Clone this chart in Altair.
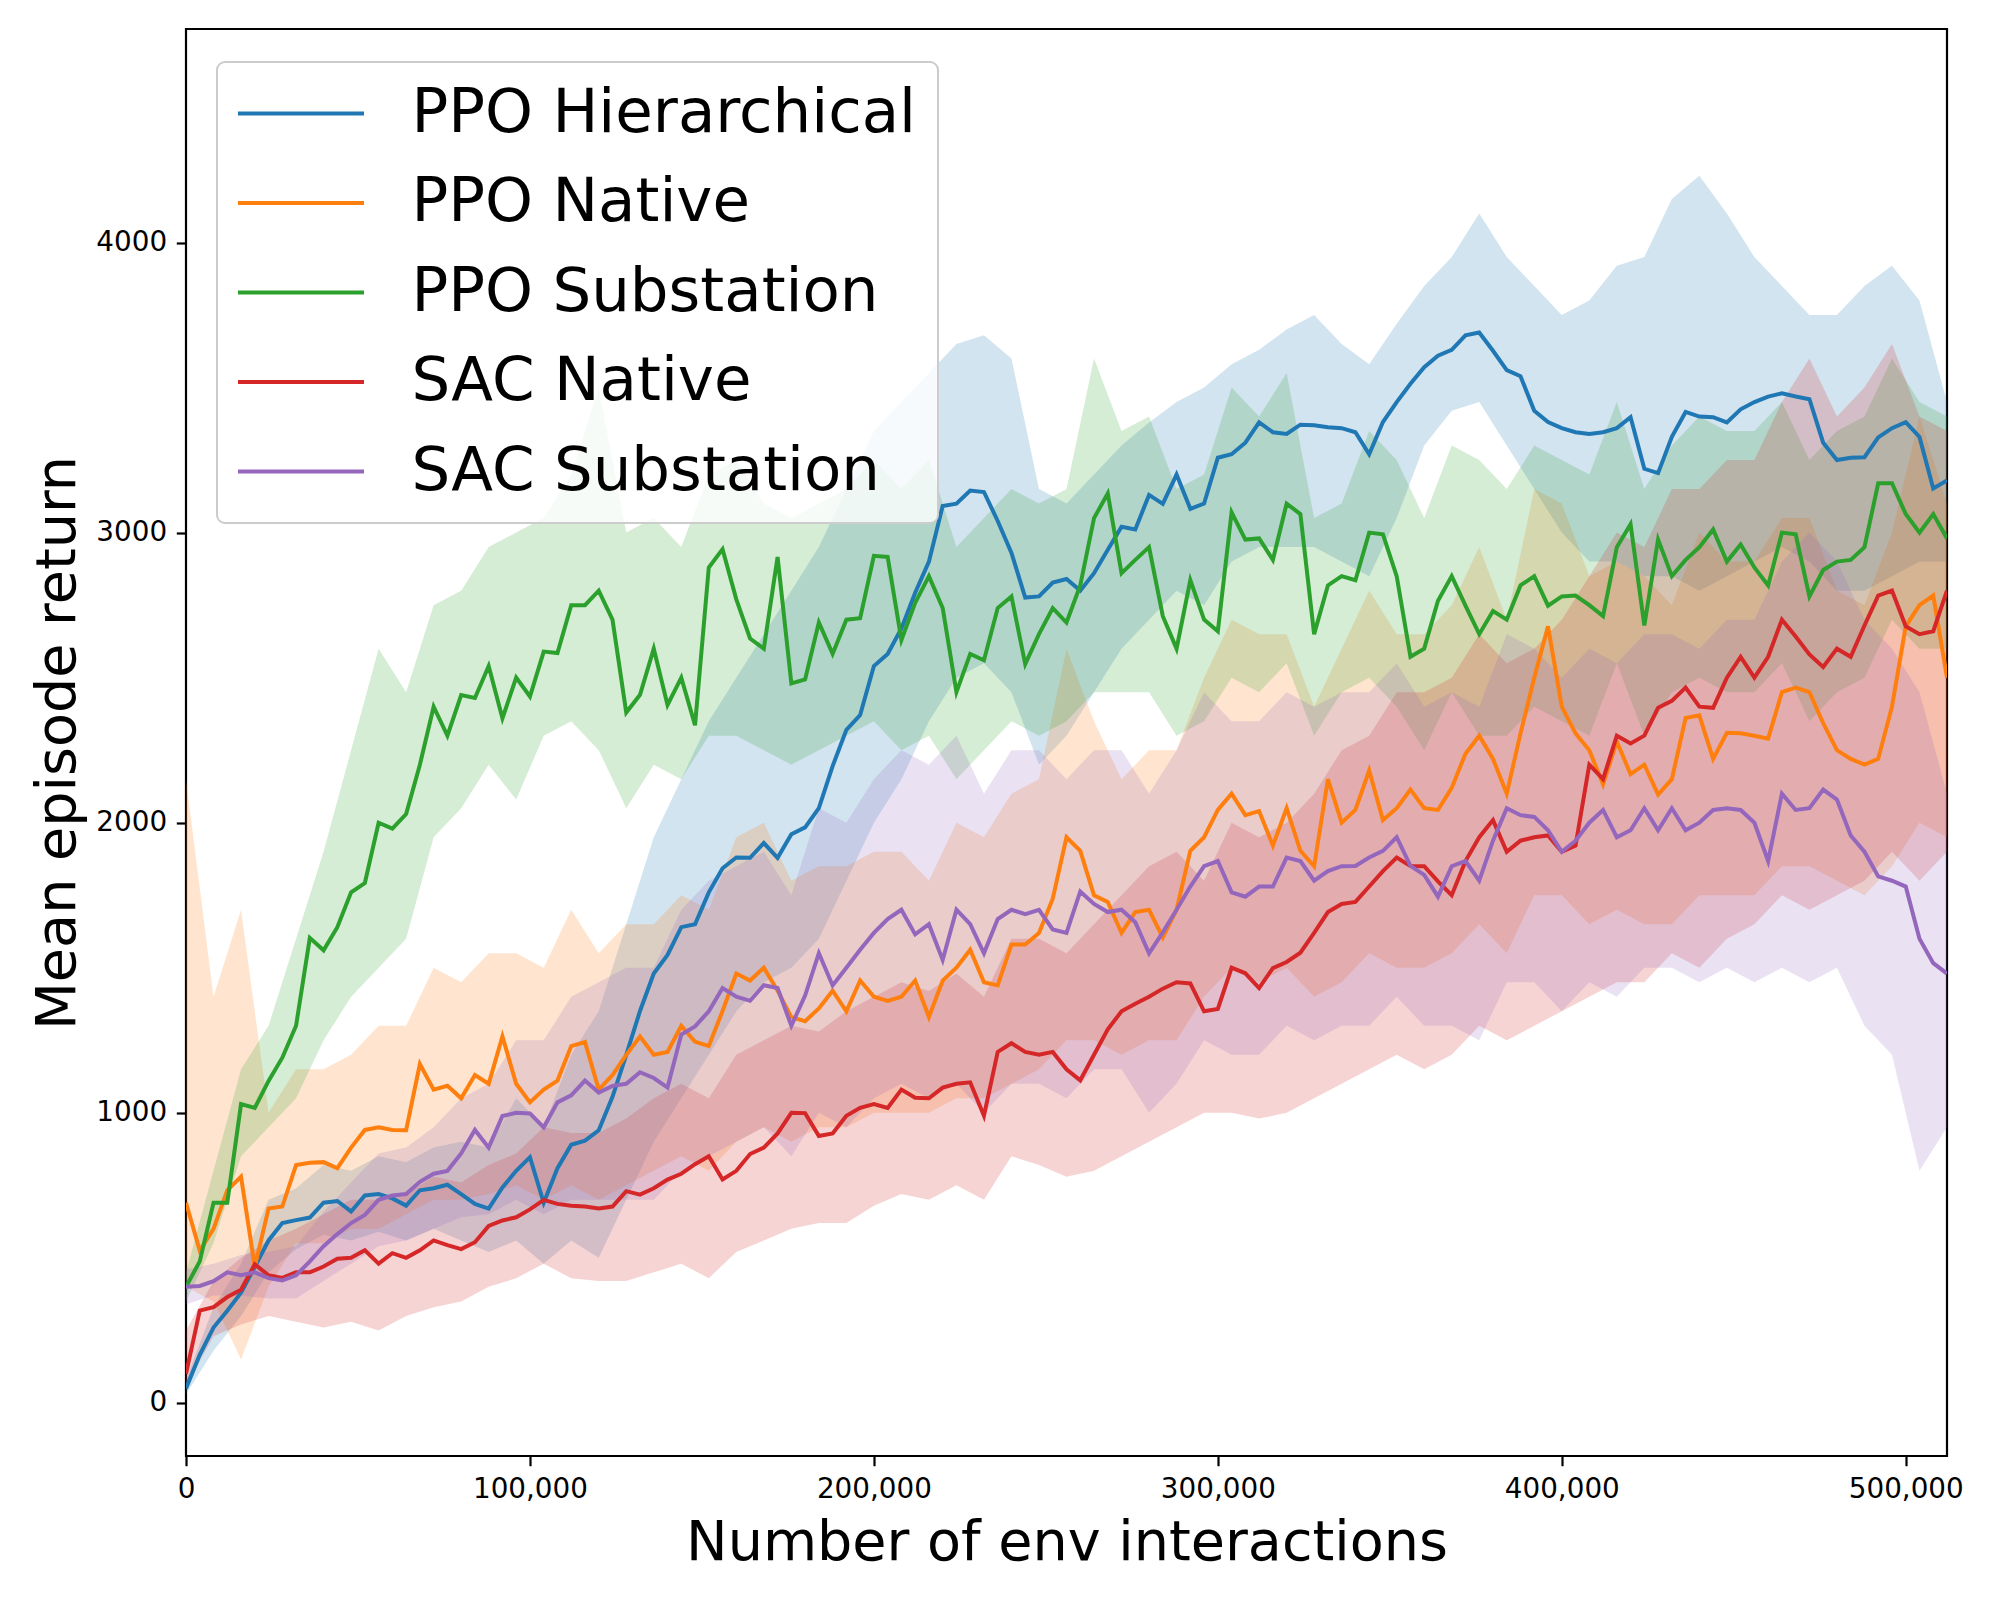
import altair as alt
import pandas as pd

STEP = 8000  # spacing of the grid samples; a second list holds the half-way samples
names = ["PPO Hierarchical", "PPO Native", "PPO Substation", "SAC Native", "SAC Substation"]
colors = ["#1f77b4", "#ff7f0e", "#2ca02c", "#d62728", "#9467bd"]
x_ticks = [0, 100000, 200000, 300000, 400000, 500000]
y_ticks = [0, 1000, 2000, 3000, 4000]

# ---- mean curves: values at 0, 8k, 16k ... 512k  and at 4k, 12k ... 508k ----
ppo_h_mean = [50, 260, 380, 560, 630, 690, 660, 720, 680, 740, 720, 670, 800, 690, 890, 940, 1200, 1480, 1640, 1760,
              1880, 1930, 1960, 2050, 2320, 2540, 2670, 2900, 3100, 3140, 2930, 2780, 2840, 2860, 3020, 3130, 3200, 3100,
              3270, 3380, 3340, 3370, 3360, 3270, 3450, 3570, 3630, 3690, 3560, 3420, 3360, 3340, 3360, 3220, 3330, 3400,
              3380, 3450, 3480, 3460, 3250, 3260, 3360, 3330, 3180]
ppo_h_mid = [166, 318, 469, 620, 639, 696, 715, 705, 733, 752, 686, 743, 847, 809, 904, 1055,
             1351, 1544, 1650, 1843, 1879, 1879, 1984, 2195, 2371, 2582, 2793, 3092, 3145, 3040, 2776, 2828,
             2800, 2941, 3011, 3099, 3082, 3258, 3310, 3346, 3372, 3363, 3346, 3381, 3513, 3610, 3680, 3627,
             3539, 3381, 3346, 3346, 3398, 3205, 3416, 3398, 3425, 3469, 3469, 3310, 3258, 3328, 3381, 3152]

ppo_n_mean = [690, 600, 780, 670, 820, 830, 880, 950, 940, 1080, 1050, 1100, 1100, 1080, 1230, 1080, 1200, 1200, 1300,
              1230, 1480, 1500, 1330, 1360, 1350, 1400, 1400, 1330, 1500, 1450, 1580, 1620, 1950, 1750, 1620, 1700,
              1700, 1950, 2100, 2040, 2050, 1850, 2000, 2180, 2050, 2050, 2120, 2300, 2100, 2500, 2400, 2250, 2280,
              2200, 2150, 2370, 2310, 2300, 2450, 2450, 2250, 2200, 2400, 2750, 2500]
ppo_n_mid = [525, 733, 469, 677, 828, 809, 941, 941, 1168, 1093, 1130, 1263, 1036, 1111, 1244, 1130,
             1263, 1210, 1245, 1351, 1456, 1421, 1316, 1421, 1456, 1386, 1456, 1456, 1562, 1439, 1580, 1738,
             1903, 1727, 1692, 1604, 1903, 2044, 2026, 1921, 1903, 2150, 2044, 2009, 2114, 2044, 2238, 2220,
             2308, 2677, 2308, 2132, 2167, 2097, 2361, 2220, 2308, 2290, 2466, 2343, 2220, 2220, 2677, 2783]

ppo_s_mean = [400, 690, 1030, 1110, 1300, 1560, 1760, 2000, 2030, 2400, 2440, 2540, 2500, 2590, 2750, 2800, 2380, 2600,
              2500, 2880, 2770, 2600, 2480, 2690, 2700, 2920, 2630, 2850, 2450, 2560, 2780, 2650, 2690, 3050, 2860,
              2950, 2600, 2700, 3070, 2980, 3100, 2650, 2850, 3000, 2850, 2600, 2850, 2650, 2700, 2850, 2780, 2750,
              2950, 2680, 2850, 2950, 2900, 2880, 3000, 2780, 2900, 2950, 3170, 3000, 2980]
ppo_s_mid = [488, 690, 1017, 1190, 1603, 1640, 1792, 1980, 2200, 2300, 2430, 2360, 2435, 2585, 2750, 2700,
             2441, 2406, 2336, 2943, 2635, 2916, 2494, 2582, 2705, 2916, 2758, 2740, 2582, 2740, 2547, 2740,
             2818, 3135, 2906, 2712, 2836, 2660, 2976, 2906, 3064, 2818, 2836, 2994, 2572, 2765, 2748, 2730,
             2818, 2748, 2783, 2712, 3029, 2976, 2906, 3011, 2959, 2818, 2994, 2871, 2906, 3170, 3064, 3064]

sac_n_mean = [100, 330, 390, 440, 450, 470, 500, 480, 500, 560, 530, 610, 640, 700, 680, 670, 730, 740, 790, 850, 800,
              880, 1000, 920, 990, 1030, 1080, 1050, 1100, 990, 1240, 1200, 1150, 1200, 1350, 1400, 1450, 1350, 1500,
              1430, 1520, 1620, 1720, 1780, 1880, 1850, 1750, 1950, 1900, 1950, 1900, 2200, 2300, 2300, 2420, 2400,
              2500, 2500, 2700, 2580, 2600, 2680, 2800, 2650, 2800]
sac_n_mid = [318, 365, 478, 431, 450, 497, 526, 516, 526, 544, 554, 629, 667, 686, 677, 677,
             718, 770, 823, 770, 858, 929, 999, 929, 1017, 1017, 1052, 1087, 1105, 1210, 1210, 1210,
             1112, 1288, 1376, 1428, 1446, 1358, 1481, 1499, 1552, 1692, 1727, 1833, 1851, 1798, 1868, 2009,
             1938, 1956, 1921, 2150, 2273, 2396, 2466, 2396, 2572, 2572, 2642, 2537, 2572, 2783, 2677, 2660]

sac_s_mean = [400, 420, 440, 430, 440, 540, 620, 700, 720, 790, 860, 880, 1000, 950, 1060, 1070, 1100, 1120, 1270,
              1350, 1400, 1440, 1300, 1550, 1500, 1620, 1700, 1650, 1700, 1550, 1700, 1700, 1620, 1720, 1700, 1550,
              1700, 1850, 1760, 1780, 1880, 1800, 1850, 1880, 1950, 1820, 1850, 1800, 2050, 2020, 1900, 2000, 1950,
              2050, 2050, 2000, 2050, 2000, 2100, 2050, 2080, 1900, 1800, 1600, 1480]
sac_s_mid = [403, 450, 450, 422, 488, 582, 648, 715, 762, 800, 941, 989, 998, 1036, 1111, 1093,
             1140, 1087, 1298, 1430, 1386, 1430, 1404, 1439, 1562, 1668, 1615, 1527, 1650, 1668, 1685, 1632,
             1763, 1692, 1657, 1622, 1780, 1868, 1745, 1780, 1868, 1833, 1851, 1903, 1851, 1745, 1868, 1938,
             2026, 1974, 1938, 2044, 1974, 1974, 1974, 2044, 2044, 1868, 2044, 2114, 1956, 1815, 1780, 1516]

# ---- shaded bands (lower / upper) at 0, 8k ... 512k ----
ppo_h_lo = [30, 180, 300, 450, 530, 580, 560, 590, 560, 600, 560, 520, 560, 480, 560, 500, 700, 900, 1050, 1200, 1350,
            1450, 1500, 1600, 1800, 2000, 2150, 2350, 2500, 2550, 2450, 2200, 2300, 2450, 2600, 2700, 2800, 2750, 2900,
            2950, 2950, 2950, 2900, 2850, 3050, 3300, 3420, 3450, 3300, 3150, 3000, 2900, 2900, 2850, 2850, 2800, 2850,
            2900, 2950, 2900, 2800, 2800, 2850, 2900, 2900]
ppo_h_hi = [80, 330, 480, 700, 740, 820, 800, 850, 830, 880, 900, 880, 1050, 950, 1200, 1350, 1650, 1950, 2150, 2350,
            2500, 2650, 2800, 2950, 3150, 3350, 3450, 3550, 3650, 3680, 3600, 3150, 3100, 3200, 3300, 3380, 3450, 3500,
            3580, 3630, 3700, 3750, 3650, 3580, 3720, 3850, 3950, 4100, 3950, 3850, 3750, 3800, 3920, 3950, 4150, 4230,
            4100, 3950, 3850, 3750, 3750, 3850, 3920, 3800, 3450]
ppo_n_lo = [400, 350, 150, 400, 550, 550, 600, 600, 650, 700, 700, 720, 750, 700, 750, 700, 750, 800, 850, 800, 900,
            950, 900, 950, 950, 1000, 1000, 1000, 1050, 1050, 1100, 1150, 1250, 1250, 1200, 1250, 1250, 1400, 1500,
            1450, 1500, 1400, 1450, 1550, 1500, 1500, 1550, 1650, 1550, 1750, 1750, 1650, 1700, 1650, 1650, 1750,
            1750, 1750, 1850, 1850, 1800, 1750, 1850, 2000, 1950]
ppo_n_hi = [2150, 1400, 1700, 1000, 1150, 1150, 1200, 1300, 1300, 1500, 1450, 1550, 1550, 1500, 1700, 1550, 1650,
            1650, 1750, 1700, 1950, 2000, 1800, 1850, 1850, 1900, 1900, 1800, 2000, 1950, 2100, 2150, 2600, 2350,
            2150, 2250, 2250, 2500, 2700, 2650, 2650, 2400, 2600, 2800, 2650, 2650, 2750, 2950, 2700, 3150, 3100,
            2850, 2900, 2850, 2750, 3000, 2900, 2900, 3050, 3050, 2800, 2750, 3000, 3400, 3100]
ppo_s_lo = [350, 550, 850, 950, 1050, 1250, 1400, 1500, 1600, 1950, 2050, 2200, 2080, 2300, 2350, 2250, 2050, 2200,
            2150, 2300, 2300, 2250, 2200, 2250, 2300, 2350, 2250, 2300, 2150, 2250, 2350, 2300, 2350, 2450, 2450, 2450,
            2300, 2350, 2500, 2450, 2550, 2300, 2450, 2500, 2400, 2250, 2450, 2300, 2300, 2400, 2350, 2300, 2550, 2300,
            2450, 2500, 2450, 2450, 2550, 2350, 2450, 2500, 2700, 2600, 2600]
ppo_s_hi = [450, 800, 1150, 1300, 1600, 1900, 2250, 2600, 2450, 2750, 2800, 2950, 3000, 3050, 3200, 3500, 3000, 3050,
            2950, 3200, 3250, 3100, 3050, 3100, 3150, 3250, 3150, 3250, 2950, 3050, 3150, 3100, 3150, 3600, 3350, 3400,
            3150, 3200, 3500, 3400, 3550, 3050, 3100, 3350, 3250, 3050, 3300, 3250, 3150, 3300, 3250, 3200, 3450, 3150,
            3300, 3400, 3350, 3350, 3450, 3250, 3350, 3400, 3600, 3450, 3400]
sac_n_lo = [60, 230, 270, 300, 280, 260, 280, 250, 300, 330, 350, 400, 430, 480, 430, 420, 420, 450, 480, 430, 520,
            560, 600, 620, 620, 680, 720, 700, 750, 700, 850, 820, 780, 800, 850, 900, 950, 1000, 1000, 980, 1000, 1050,
            1100, 1150, 1200, 1150, 1200, 1300, 1250, 1300, 1350, 1400, 1450, 1450, 1550, 1500, 1600, 1650, 1750, 1700,
            1750, 1800, 1900, 1800, 1900]
sac_n_hi = [250, 420, 500, 560, 600, 650, 700, 700, 720, 780, 760, 820, 860, 950, 930, 930, 980, 1050, 1100, 1050,
            1200, 1250, 1300, 1280, 1350, 1400, 1450, 1420, 1480, 1400, 1600, 1600, 1550, 1650, 1750, 1850, 1900, 1800,
            2000, 1950, 2000, 2100, 2250, 2300, 2450, 2450, 2500, 2650, 2550, 2600, 2700, 2850, 3000, 2950, 3150, 3150,
            3250, 3250, 3450, 3600, 3400, 3500, 3650, 3400, 3350]
sac_s_lo = [340, 370, 370, 360, 360, 420, 480, 540, 560, 600, 640, 650, 700, 650, 700, 700, 700, 700, 800, 850, 900,
            950, 850, 1000, 950, 1050, 1100, 1050, 1100, 1000, 1100, 1100, 1050, 1150, 1150, 1000, 1100, 1250, 1200,
            1200, 1300, 1250, 1300, 1300, 1400, 1300, 1300, 1250, 1450, 1450, 1350, 1450, 1400, 1500, 1500, 1450, 1500,
            1450, 1500, 1450, 1500, 1300, 1200, 800, 950]
sac_s_hi = [460, 480, 510, 520, 540, 660, 760, 860, 880, 950, 1050, 1100, 1250, 1250, 1400, 1450, 1500, 1500, 1700,
            1800, 1850, 1900, 1750, 2050, 2000, 2150, 2250, 2200, 2300, 2100, 2250, 2250, 2150, 2250, 2250, 2100, 2250,
            2450, 2350, 2350, 2450, 2400, 2450, 2450, 2550, 2400, 2450, 2400, 2650, 2600, 2500, 2600, 2550, 2650, 2650,
            2600, 2700, 2700, 2900, 3000, 2900, 2700, 2600, 2450, 2100]

means = [ppo_h_mean, ppo_n_mean, ppo_s_mean, sac_n_mean, sac_s_mean]
mids = [ppo_h_mid, ppo_n_mid, ppo_s_mid, sac_n_mid, sac_s_mid]
lows = [ppo_h_lo, ppo_n_lo, ppo_s_lo, sac_n_lo, sac_s_lo]
highs = [ppo_h_hi, ppo_n_hi, ppo_s_hi, sac_n_hi, sac_s_hi]

line_rows, band_rows = [], []
for name, m, md, lo, hi in zip(names, means, mids, lows, highs):
    for i, v in enumerate(m):
        line_rows.append({"series": name, "x": i * STEP, "y": v})
    for i, v in enumerate(md):
        line_rows.append({"series": name, "x": i * STEP + STEP // 2, "y": v})
    for i, (a, b) in enumerate(zip(lo, hi)):
        band_rows.append({"series": name, "x": i * STEP, "lo": a, "hi": b})
df_line = pd.DataFrame(line_rows).sort_values(["series", "x"]).reset_index(drop=True)
df_band = pd.DataFrame(band_rows)

FONT = "DejaVu Sans"
x_scale = alt.Scale(domain=[0, 512000], nice=False, zero=False)
y_scale = alt.Scale(domain=[-183, 4736], nice=False, zero=False)
x_axis = alt.Axis(values=x_ticks, format=",d", title="Number of env interactions", grid=False,
                  labelFont=FONT, labelFontSize=27.8, labelColor="black", tickColor="black",
                  tickWidth=2.2, tickSize=9.7, labelPadding=9.7, domain=False, labelFlush=False,
                  labelOverlap=False,
                  titleFont=FONT, titleFontSize=55.6, titleFontWeight="normal", titleColor="black",
                  titlePadding=12)
y_axis = alt.Axis(values=y_ticks, format="d", title="Mean episode return", grid=False,
                  labelFont=FONT, labelFontSize=27.8, labelColor="black", tickColor="black",
                  tickWidth=2.2, tickSize=9.7, labelPadding=9.7, domain=False, labelFlush=False,
                  labelOverlap=False,
                  titleFont=FONT, titleFontSize=55.6, titleFontWeight="normal", titleColor="black",
                  titlePadding=9)
color_scale = alt.Scale(domain=names, range=colors)
legend = alt.Legend(title=None, orient="none", legendX=31, legendY=33,
                    labelFont=FONT, labelFontSize=61, labelColor="black", labelLimit=2000,
                    symbolType="M-2.25,0H2.25", symbolSize=3136, symbolStrokeWidth=4,
                    symbolOffset=32.5, labelOffset=80, rowPadding=27.5, padding=21,
                    fillColor="rgba(255,255,255,0.8)", strokeColor="#cccccc", cornerRadius=8)

layers = []
for name, col in zip(names, colors):
    layers.append(
        alt.Chart(df_band[df_band.series == name]).mark_area(opacity=0.2, color=col, clip=True).encode(
            x=alt.X("x:Q", scale=x_scale, axis=x_axis),
            y=alt.Y("lo:Q", scale=y_scale, axis=y_axis),
            y2="hi:Q",
        )
    )
for name in names:
    layers.append(
        alt.Chart(df_line[df_line.series == name]).mark_line(strokeWidth=4, clip=True).encode(
            x=alt.X("x:Q", scale=x_scale, axis=x_axis),
            y=alt.Y("y:Q", scale=y_scale, axis=y_axis),
            color=alt.Color("series:N", scale=color_scale, legend=legend),
        )
    )

chart = alt.layer(*layers).properties(
    width=1761, height=1427,
    autosize=alt.AutoSizeParams(type="none"),
    padding={"left": 178, "top": 21, "right": 45, "bottom": 135},
    background="white",
).configure_view(stroke="black", strokeWidth=2.2).configure_legend(strokeWidth=2)

chart.save("out.html", embed_options={"renderer": "svg", "actions": False})
